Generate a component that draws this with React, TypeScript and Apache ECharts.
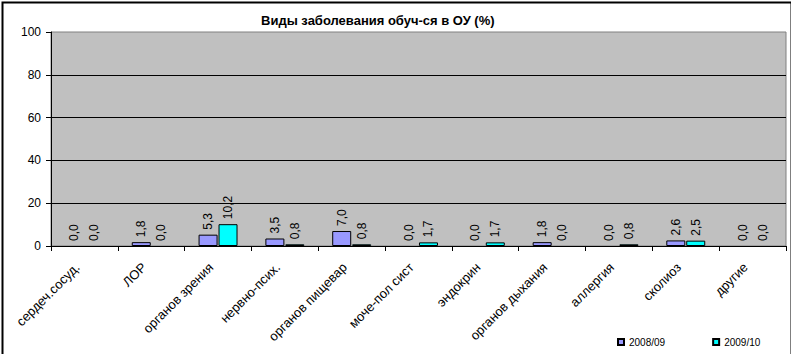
import React, { useEffect, useRef } from "react";
import * as echarts from "echarts";

const categories = [
  "сердеч.сосуд.",
  "ЛОР",
  "органов зрения",
  "нервно-псих.",
  "органов пищевар",
  "моче-пол сист",
  "эндокрин",
  "органов дыхания",
  "аллергия",
  "сколиоз",
  "другие",
];
const series2008 = [0.0, 1.8, 5.3, 3.5, 7.0, 0.0, 0.0, 1.8, 0.0, 2.6, 0.0];
const series2009 = [0.0, 0.0, 10.2, 0.8, 0.8, 1.7, 1.7, 0.0, 0.8, 2.5, 0.0];
const seriesNames = ["2008/09", "2009/10"];
const yTicks = [0, 20, 40, 60, 80, 100];
const titleText = "Виды заболевания обуч-ся в ОУ (%)";

const FONT = "'Liberation Sans', Arial, sans-serif";

const toData = (arr: number[]) =>
  arr.map((v) => (v === 0 ? { value: v, itemStyle: { borderWidth: 0 } } : { value: v }));

export default function App() {
  const ref = useRef<HTMLDivElement>(null);
  useEffect(() => {
    document.body.style.margin = "0";
    const chart = echarts.init(ref.current!, null, { renderer: "svg" });
    const labelCfg = {
      show: true,
      position: "top",
      rotate: 90,
      align: "left",
      verticalAlign: "middle",
      distance: 5,
      color: "#000",
      fontSize: 12,
      fontFamily: FONT,
      formatter: (p: any) => Number(p.value).toFixed(1).replace(".", ","),
    };
    chart.setOption({
      animation: false,
      backgroundColor: "#fff",
      textStyle: { fontFamily: FONT },
      title: {
        text: titleText,
        left: 256,
        top: 9,
        textStyle: { fontSize: 13, fontWeight: "bold", color: "#000", fontFamily: FONT },
      },
      legend: {
        data: seriesNames,
        left: 612,
        top: 332,
        itemWidth: 6,
        itemHeight: 6,
        itemGap: 47,
        icon: "rect",
        textStyle: { fontSize: 10, color: "#000", fontFamily: FONT },
      },
      grid: {
        left: 51,
        right: 5,
        top: 32,
        bottom: 108,
        show: true,
        backgroundColor: "#C0C0C0",
        borderColor: "#808080",
        borderWidth: 1,
      },
      xAxis: {
        type: "category",
        data: categories,
        boundaryGap: true,
        axisLine: { lineStyle: { color: "#000", width: 1 } },
        axisTick: { show: true, length: 5, inside: false, lineStyle: { color: "#000" } },
        axisLabel: {
          interval: 0,
          rotate: 45,
          margin: 12,
          padding: [0, 10, 0, 0],
          fontSize: 13,
          color: "#000",
          fontFamily: FONT,
        },
        splitLine: { show: false },
      },
      yAxis: {
        type: "value",
        min: yTicks[0],
        max: yTicks[yTicks.length - 1],
        interval: 20,
        axisLine: { show: true, lineStyle: { color: "#000", width: 1 } },
        axisTick: { show: true, length: 5, lineStyle: { color: "#000" } },
        axisLabel: { margin: 10, fontSize: 12, color: "#000", fontFamily: FONT },
        splitLine: { show: true, showMaxLine: false, lineStyle: { color: "#000", width: 1 } },
      },
      series: [
        {
          name: seriesNames[0],
          type: "bar",
          data: toData(series2008),
          barWidth: 19,
          barGap: "5%",
          itemStyle: { color: "#9999FF", borderColor: "#000", borderWidth: 1 },
          label: labelCfg,
        },
        {
          name: seriesNames[1],
          type: "bar",
          data: toData(series2009),
          barWidth: 19,
          barGap: "5%",
          itemStyle: { color: "#00FFFF", borderColor: "#000", borderWidth: 1 },
          label: labelCfg,
        },
      ],
      graphic: [
        {
          type: "rect",
          left: 0,
          top: 0,
          shape: { x: 1, y: -5, width: 789, height: 358 },
          style: { fill: "none", stroke: "#000", lineWidth: 2 },
          silent: true,
          z: 100,
        },
      ],
    });
    return () => chart.dispose();
  }, []);
  return <div ref={ref} style={{ width: 791, height: 354 }} />;
}
